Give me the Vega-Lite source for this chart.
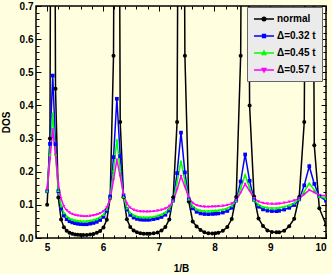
{
"$schema": "https://vega.github.io/schema/vega-lite/v6.json",
"autosize": "none",
"width": 290, "height": 232,
"padding": {"left": 36, "top": 6, "right": 6, "bottom": 36},
"background": "#FFFFE0",
"config": {
 "view": {"stroke": "#000000", "strokeWidth": 1.5, "fill": "#FFFFE0"},
 "axis": {"domain": false, "grid": false, "tickColor": "#000000", "tickWidth": 1, "labelFont": "Liberation Sans", "labelFontWeight": "bold", "labelFontSize": 10, "labelColor": "#000000", "titleFont": "Liberation Sans", "titleFontWeight": "bold", "titleFontSize": 10, "titleColor": "#000000"},
 "legend": {"orient": "none", "legendX": 211, "legendY": 1, "title": null, "fillColor": "#EBEBEB", "strokeColor": "#666666",
   "padding": 6, "rowPadding": 6, "symbolSize": 100, "labelOffset": 12, "symbolStrokeWidth": 1.5, "symbolOpacity": 1,
   "labelFont": "Liberation Sans", "labelFontWeight": "bold", "labelFontSize": 10, "labelColor": "#000000"}
},
"data": {"values": [
{"x":5.00,"normal":0.10,"d32":0.141,"d45":0.142,"d57":0.146},
{"x":5.05,"normal":0.30,"d32":0.284,"d45":0.252,"d57":0.2365},
{"x":5.10,"normal":3.0,"d32":0.490,"d45":0.376,"d57":0.327},
{"x":5.15,"normal":0.45,"d32":0.283,"d45":0.252,"d57":0.2518},
{"x":5.20,"normal":0.122,"d32":0.141,"d45":0.143,"d57":0.1637},
{"x":5.25,"normal":0.056,"d32":0.0894,"d45":0.0967,"d57":0.1181},
{"x":5.30,"normal":0.0325,"d32":0.0676,"d45":0.0761,"d57":0.0956},
{"x":5.35,"normal":0.0218,"d32":0.0567,"d45":0.0655,"d57":0.0835},
{"x":5.40,"normal":0.016,"d32":0.0506,"d45":0.0594,"d57":0.0765},
{"x":5.45,"normal":0.0128,"d32":0.0471,"d45":0.0557,"d57":0.0722},
{"x":5.50,"normal":0.0108,"d32":0.0447,"d45":0.0536,"d57":0.0693},
{"x":5.55,"normal":0.0097,"d32":0.043,"d45":0.052,"d57":0.0675},
{"x":5.60,"normal":0.0091,"d32":0.042,"d45":0.0511,"d57":0.0663},
{"x":5.65,"normal":0.009,"d32":0.0415,"d45":0.0507,"d57":0.0656},
{"x":5.71,"normal":0.0093,"d32":0.0415,"d45":0.0512,"d57":0.0658},
{"x":5.77,"normal":0.0104,"d32":0.0433,"d45":0.0525,"d57":0.0667},
{"x":5.83,"normal":0.0123,"d32":0.0454,"d45":0.0545,"d57":0.0684},
{"x":5.89,"normal":0.0155,"d32":0.0488,"d45":0.0575,"d57":0.0708},
{"x":5.95,"normal":0.0212,"d32":0.0543,"d45":0.0625,"d57":0.0746},
{"x":6.01,"normal":0.032,"d32":0.0638,"d45":0.0709,"d57":0.0809},
{"x":6.07,"normal":0.055,"d32":0.0823,"d45":0.0868,"d57":0.0925},
{"x":6.13,"normal":0.121,"d32":0.1252,"d45":0.1217,"d57":0.1175},
{"x":6.19,"normal":0.55,"d32":0.244,"d45":0.2032,"d57":0.175},
{"x":6.25,"normal":3.0,"d32":0.420,"d45":0.296,"d57":0.236},
{"x":6.31,"normal":0.35,"d32":0.2466,"d45":0.2044,"d57":0.1858},
{"x":6.37,"normal":0.123,"d32":0.1281,"d45":0.1241,"d57":0.1308},
{"x":6.43,"normal":0.0565,"d32":0.0868,"d45":0.0905,"d57":0.1038},
{"x":6.49,"normal":0.033,"d32":0.0697,"d45":0.0758,"d57":0.0912},
{"x":6.55,"normal":0.0227,"d32":0.0617,"d45":0.0686,"d57":0.085},
{"x":6.61,"normal":0.0174,"d32":0.0577,"d45":0.065,"d57":0.0818},
{"x":6.67,"normal":0.0145,"d32":0.0557,"d45":0.0632,"d57":0.0802},
{"x":6.73,"normal":0.013,"d32":0.0549,"d45":0.0624,"d57":0.0797},
{"x":6.79,"normal":0.0125,"d32":0.0549,"d45":0.0623,"d57":0.0795},
{"x":6.84,"normal":0.0127,"d32":0.0554,"d45":0.0628,"d57":0.0799},
{"x":6.91,"normal":0.014,"d32":0.057,"d45":0.0645,"d57":0.0809},
{"x":6.98,"normal":0.0169,"d32":0.0595,"d45":0.067,"d57":0.0825},
{"x":7.05,"normal":0.0223,"d32":0.0635,"d45":0.0708,"d57":0.0849},
{"x":7.12,"normal":0.033,"d32":0.0703,"d45":0.0771,"d57":0.0889},
{"x":7.19,"normal":0.056,"d32":0.0832,"d45":0.0884,"d57":0.0961},
{"x":7.26,"normal":0.123,"d32":0.1129,"d45":0.1123,"d57":0.1112},
{"x":7.33,"normal":0.35,"d32":0.1957,"d45":0.1688,"d57":0.1467},
{"x":7.40,"normal":3.0,"d32":0.318,"d45":0.232,"d57":0.186},
{"x":7.47,"normal":0.55,"d32":0.1978,"d45":0.1713,"d57":0.1543},
{"x":7.54,"normal":0.11,"d32":0.1172,"d45":0.1172,"d57":0.1214},
{"x":7.61,"normal":0.05,"d32":0.0896,"d45":0.0956,"d57":0.1057},
{"x":7.68,"normal":0.0346,"d32":0.0789,"d45":0.0869,"d57":0.0989},
{"x":7.75,"normal":0.0245,"d32":0.0743,"d45":0.0832,"d57":0.0958},
{"x":7.82,"normal":0.017,"d32":0.0724,"d45":0.0818,"d57":0.0946},
{"x":7.89,"normal":0.014,"d32":0.072,"d45":0.0816,"d57":0.0943},
{"x":7.96,"normal":0.0135,"d32":0.0726,"d45":0.0823,"d57":0.0947},
{"x":8.015,"normal":0.014,"d32":0.0733,"d45":0.0829,"d57":0.0951},
{"x":8.07,"normal":0.0155,"d32":0.0742,"d45":0.0837,"d57":0.0957},
{"x":8.15,"normal":0.0215,"d32":0.0768,"d45":0.0859,"d57":0.0969},
{"x":8.23,"normal":0.033,"d32":0.0816,"d45":0.0896,"d57":0.0993},
{"x":8.31,"normal":0.057,"d32":0.091,"d45":0.097,"d57":0.1038},
{"x":8.39,"normal":0.1235,"d32":0.1128,"d45":0.1129,"d57":0.1134},
{"x":8.47,"normal":0.55,"d32":0.1704,"d45":0.15,"d57":0.1365},
{"x":8.55,"normal":3.0,"d32":0.252,"d45":0.19,"d57":0.163},
{"x":8.63,"normal":0.40,"d32":0.1728,"d45":0.1509,"d57":0.142},
{"x":8.71,"normal":0.125,"d32":0.1151,"d45":0.1149,"d57":0.1198},
{"x":8.79,"normal":0.059,"d32":0.0945,"d45":0.1003,"d57":0.1098},
{"x":8.87,"normal":0.036,"d32":0.0863,"d45":0.094,"d57":0.1057},
{"x":8.95,"normal":0.023,"d32":0.0826,"d45":0.0913,"d57":0.1037},
{"x":9.03,"normal":0.018,"d32":0.0812,"d45":0.0903,"d57":0.1029},
{"x":9.11,"normal":0.017,"d32":0.081,"d45":0.0902,"d57":0.1029},
{"x":9.16,"normal":0.0175,"d32":0.0822,"d45":0.0912,"d57":0.1036},
{"x":9.25,"normal":0.022,"d32":0.0858,"d45":0.0943,"d57":0.106},
{"x":9.34,"normal":0.0355,"d32":0.091,"d45":0.0987,"d57":0.109},
{"x":9.43,"normal":0.058,"d32":0.0995,"d45":0.1051,"d57":0.1129},
{"x":9.52,"normal":0.124,"d32":0.1165,"d45":0.1166,"d57":0.1194},
{"x":9.61,"normal":0.35,"d32":0.1589,"d45":0.1403,"d57":0.1318},
{"x":9.70,"normal":3.0,"d32":0.2167,"d45":0.1649,"d57":0.145},
{"x":9.79,"normal":0.28,"d32":0.1631,"d45":0.1446,"d57":0.1374},
{"x":9.88,"normal":0.09,"d32":0.126,"d45":0.126,"d57":0.1294},
{"x":10.0,"normal":0.04,"d32":0.1126,"d45":0.1188,"d57":0.1269}
]},
"transform": [{"fold": ["normal", "d32", "d45", "d57"], "as": ["series", "dos"]}],
"resolve": {
  "axis": {"x": "independent", "y": "independent"},
  "scale": {"shape": "independent", "fill": "independent", "stroke": "independent", "size": "independent", "color": "independent"},
  "legend": {"shape": "independent", "fill": "independent", "stroke": "independent", "size": "independent", "color": "independent"}
},
"layer": [
 {
  "encoding": {
   "x": {"field": "x", "type": "quantitative", "scale": {"domain": [4.8, 10], "nice": false, "zero": false},
         "axis": {"orient": "bottom", "values": [5,6,7,8,9,10], "format": "d", "tickSize": -5, "labelPadding": 9, "title": "1/B", "titlePadding": 11}},
   "y": {"field": "dos", "type": "quantitative", "scale": {"domain": [0, 0.7], "nice": false, "zero": false},
         "axis": {"orient": "left", "values": [0,0.1,0.2,0.3,0.4,0.5,0.6,0.7], "format": ".1f", "tickSize": -5, "labelPadding": 8, "title": "DOS", "titlePadding": 8}},
   "color": {"field": "series", "type": "nominal",
     "scale": {"domain": ["normal", "d32", "d45", "d57"], "range": ["#000000", "#0000FF", "#00FF00", "#FF00FF"]},
     "legend": null}
  },
  "layer": [
   {"mark": {"type": "line", "clip": true, "strokeWidth": 1.5}},
   {"mark": {"type": "point", "clip": true, "filled": true, "opacity": 1},
    "encoding": {
     "shape": {"field": "series", "type": "nominal", "scale": {"domain": ["normal", "d32", "d45", "d57"], "range": ["circle", "square", "triangle-up", "triangle-down"]}, "legend": null},
     "size": {"field": "series", "type": "nominal", "scale": {"domain": ["normal", "d32", "d45", "d57"], "range": [16, 9, 16, 16]}, "legend": null}}}
  ]
 },
 {
  "mark": {"type": "point", "opacity": 0},
  "encoding": {
   "x": {"field": "x", "type": "quantitative", "axis": {"orient": "bottom", "values": [4.8,5,5.2,5.4,5.6,5.8,6,6.2,6.4,6.6,6.8,7,7.2,7.4,7.6,7.8,8,8.2,8.4,8.6,8.8,9,9.2,9.4,9.6,9.8,10], "tickSize": -3, "labels": false, "title": null}},
   "y": {"field": "dos", "type": "quantitative", "axis": {"orient": "left", "values": [0,0.02,0.04,0.06,0.08,0.1,0.12,0.14,0.16,0.18,0.2,0.22,0.24,0.26,0.28,0.3,0.32,0.34,0.36,0.38,0.4,0.42,0.44,0.46,0.48,0.5,0.52,0.54,0.56,0.58,0.6,0.62,0.64,0.66,0.68,0.7], "tickSize": -3, "labels": false, "title": null}}
  }
 },
 {
  "mark": {"type": "point", "opacity": 0},
  "encoding": {
   "x": {"field": "x", "type": "quantitative", "axis": {"orient": "top", "values": [5,6,7,8,9,10], "tickSize": -5, "labels": false, "title": null}},
   "y": {"field": "dos", "type": "quantitative", "axis": {"orient": "right", "values": [0,0.1,0.2,0.3,0.4,0.5,0.6,0.7], "tickSize": -5, "labels": false, "title": null}}
  }
 },
 {
  "mark": {"type": "point", "opacity": 0},
  "encoding": {
   "x": {"field": "x", "type": "quantitative", "axis": {"orient": "top", "values": [4.8,5,5.2,5.4,5.6,5.8,6,6.2,6.4,6.6,6.8,7,7.2,7.4,7.6,7.8,8,8.2,8.4,8.6,8.8,9,9.2,9.4,9.6,9.8,10], "tickSize": -3, "labels": false, "title": null}},
   "y": {"field": "dos", "type": "quantitative", "axis": {"orient": "right", "values": [0,0.02,0.04,0.06,0.08,0.1,0.12,0.14,0.16,0.18,0.2,0.22,0.24,0.26,0.28,0.3,0.32,0.34,0.36,0.38,0.4,0.42,0.44,0.46,0.48,0.5,0.52,0.54,0.56,0.58,0.6,0.62,0.64,0.66,0.68,0.7], "tickSize": -3, "labels": false, "title": null}}
  }
 },
 {
  "transform": [{"filter": "false"}],
  "mark": {"type": "point", "opacity": 1, "strokeWidth": 1.5},
  "encoding": {
   "fill": {"field": "series", "type": "nominal", "scale": {"domain": ["normal", "d32", "d45", "d57"], "range": ["#000000", "#0000FF", "#00FF00", "#FF00FF"]},
     "legend": {"labelExpr": "datum.value == 'normal' ? 'normal' : datum.value == 'd32' ? 'Δ=0.32 t' : datum.value == 'd45' ? 'Δ=0.45 t' : 'Δ=0.57 t'"}},
   "stroke": {"field": "series", "type": "nominal", "scale": {"domain": ["normal", "d32", "d45", "d57"], "range": ["#000000", "#0000FF", "#00FF00", "#FF00FF"]},
     "legend": {"labelExpr": "datum.value == 'normal' ? 'normal' : datum.value == 'd32' ? 'Δ=0.32 t' : datum.value == 'd45' ? 'Δ=0.45 t' : 'Δ=0.57 t'"}},
   "shape": {"field": "series", "type": "nominal", "scale": {"domain": ["normal", "d32", "d45", "d57"], "range": ["M-1,0H3M0.65,0A0.35,0.35,0,1,1,1.35,0A0.35,0.35,0,1,1,0.65,0Z", "M-1,0H3M0.72,-0.28H1.28V0.28H0.72Z", "M-1,0H3M1,-0.4L1.36,0.28H0.64Z", "M-1,0H3M1,0.4L1.36,-0.28H0.64Z"]},
     "legend": {"labelExpr": "datum.value == 'normal' ? 'normal' : datum.value == 'd32' ? 'Δ=0.32 t' : datum.value == 'd45' ? 'Δ=0.45 t' : 'Δ=0.57 t'"}}
  }
 }
]
}
